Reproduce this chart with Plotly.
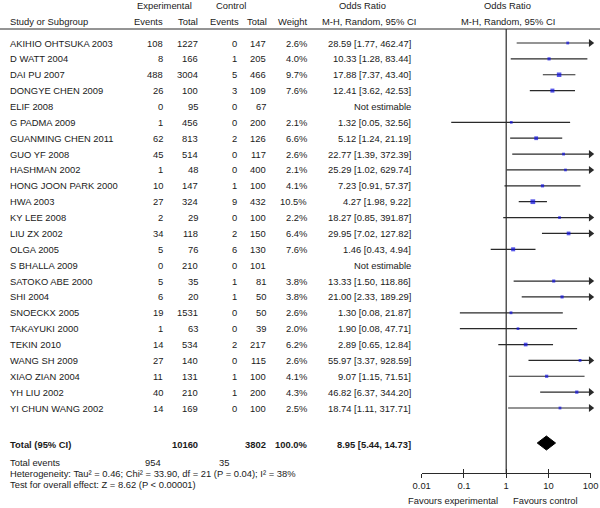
import math
import plotly.graph_objects as go

studies = ["AKIHIO OHTSUKA 2003", "D WATT 2004", "DAI PU 2007", "DONGYE CHEN 2009", "ELIF 2008",
           "G PADMA 2009", "GUANMING CHEN 2011", "GUO YF 2008", "HASHMAN 2002", "HONG JOON PARK 2000",
           "HWA 2003", "KY LEE 2008", "LIU ZX 2002", "OLGA 2005", "S BHALLA 2009", "SATOKO ABE 2000",
           "SHI 2004", "SNOECKX 2005", "TAKAYUKI 2000", "TEKIN 2010", "WANG SH 2009", "XIAO ZIAN 2004",
           "YH LIU 2002", "YI CHUN WANG 2002"]
exp_events = [108, 8, 488, 26, 0, 1, 62, 45, 1, 10, 27, 2, 34, 5, 0, 5, 6, 19, 1, 14, 27, 11, 40, 14]
exp_total = [1227, 166, 3004, 100, 95, 456, 813, 514, 48, 147, 324, 29, 118, 76, 210, 35, 20, 1531, 63, 534, 140, 131, 210, 169]
ctrl_events = [0, 1, 5, 3, 0, 0, 2, 0, 0, 1, 9, 0, 2, 6, 0, 1, 1, 0, 0, 2, 0, 1, 1, 0]
ctrl_total = [147, 205, 466, 109, 67, 200, 126, 117, 400, 100, 432, 100, 150, 130, 101, 81, 50, 50, 39, 217, 115, 100, 200, 100]
weights = [2.6, 4.0, 9.7, 7.6, None, 2.1, 6.6, 2.6, 2.1, 4.1, 10.5, 2.2, 6.4, 7.6, None, 3.8, 3.8, 2.6, 2.0, 6.2, 2.6, 4.1, 4.3, 2.5]
or_est = [28.59, 10.33, 17.88, 12.41, None, 1.32, 5.12, 22.77, 25.29, 7.23, 4.27, 18.27, 29.95, 1.46, None, 13.33, 21.00, 1.30, 1.90, 2.89, 55.97, 9.07, 46.82, 18.74]
ci_lo = [1.77, 1.28, 7.37, 3.62, None, 0.05, 1.24, 1.39, 1.02, 0.91, 1.98, 0.85, 7.02, 0.43, None, 1.50, 2.33, 0.08, 0.08, 0.65, 3.37, 1.15, 6.37, 1.11]
ci_hi = [462.47, 83.44, 43.40, 42.53, None, 32.56, 21.19, 372.39, 629.74, 57.37, 9.22, 391.87, 127.82, 4.94, None, 118.86, 189.29, 21.87, 47.71, 12.84, 928.59, 71.51, 344.20, 317.71]

total_exp = 10160
total_ctrl = 3802
total_weight = 100.0
total_or, total_lo, total_hi = 8.95, 5.44, 14.73
events_exp, events_ctrl = 954, 35
heterogeneity = "Heterogeneity: Tau² = 0.46; Chi² = 33.90, df = 21 (P = 0.04); I² = 38%"
overall = "Test for overall effect: Z = 8.62 (P < 0.00001)"
tick_vals = [0.01, 0.1, 1, 10, 100]
tick_text = ["0.01", "0.1", "1", "10", "100"]
axis_min, axis_max = 0.01, 100

W, H = 600, 508
ROW0, STEP = 43, 15.87
FONT = "Liberation Sans, Arial, sans-serif"
FS = 9.4
TXT = "#1a1a1a"
LINE = "#2a2a2a"


def px(x):
    return x / W


def py(y):
    return 1 - y / H


def row_of(ypix):
    return (ypix - ROW0) / STEP


fig = go.Figure()

# CI lines and arrows
for i, name in enumerate(studies):
    if or_est[i] is None:
        continue
    hi = min(ci_hi[i], axis_max)
    fig.add_trace(go.Scatter(x=[ci_lo[i], hi], y=[i, i], mode="lines", cliponaxis=False,
                             line=dict(color=LINE, width=1.2), hoverinfo="skip", showlegend=False))
    if ci_hi[i] > axis_max:
        fig.add_trace(go.Scatter(x=[axis_max], y=[i], mode="markers", cliponaxis=False,
                                 marker=dict(symbol="triangle-right", size=7, color=LINE,
                                             line=dict(width=0)),
                                 hoverinfo="skip", showlegend=False))

# point estimates
xs = [o for o in or_est if o is not None]
ys = [i for i, o in enumerate(or_est) if o is not None]
sz = [2.2 + 0.24 * w for w in weights if w is not None]
fig.add_trace(go.Scatter(x=xs, y=ys, mode="markers", cliponaxis=False,
                         marker=dict(symbol="square", size=sz, color="#1010e0", line=dict(width=0)),
                         hoverinfo="skip", showlegend=False))

# diamond
r_tot = row_of(443)
d = 7 / STEP
fig.add_trace(go.Scatter(x=[total_lo, total_or, total_hi, total_or, total_lo],
                         y=[r_tot, r_tot - d, r_tot, r_tot + d, r_tot],
                         mode="lines", fill="toself", fillcolor="black",
                         line=dict(color="black", width=1), hoverinfo="skip", showlegend=False))

# null line
fig.add_trace(go.Scatter(x=[1, 1], y=[row_of(29), row_of(473)], mode="lines",
                         line=dict(color=LINE, width=1.2), hoverinfo="skip", showlegend=False))

# invisible trace for the inner tick axis
fig.add_trace(go.Scatter(x=[1], y=[0], xaxis="x2", mode="markers",
                         marker=dict(opacity=0), hoverinfo="skip", showlegend=False))

ann = []


def txt(x, y, s, anchor="left", yref="paper"):
    ann.append(dict(x=x, y=y, xref="paper", yref=yref, text=s, showarrow=False,
                    xanchor=anchor, yanchor="middle", font=dict(family=FONT, size=FS, color=TXT)))


# headers
txt(px(164), py(6), "Experimental", "center")
txt(px(231), py(6), "Control", "center")
txt(px(362), py(6), "Odds Ratio", "center")
txt(px(507), py(6), "Odds Ratio", "center")
txt(px(8), py(21), "Study or Subgroup")
txt(px(165), py(21), "Events", "right")
txt(px(200), py(21), "Total", "right")
txt(px(241), py(21), "Events", "right")
txt(px(269), py(21), "Total", "right")
txt(px(309), py(21), "Weight", "right")
txt(px(369), py(21), "M-H, Random, 95% CI", "center")
txt(px(508), py(21), "M-H, Random, 95% CI", "center")

for i, name in enumerate(studies):
    txt(px(8), i, name, "left", "y")
    txt(px(165), i, str(exp_events[i]), "right", "y")
    txt(px(200), i, str(exp_total[i]), "right", "y")
    txt(px(239), i, str(ctrl_events[i]), "right", "y")
    txt(px(268), i, str(ctrl_total[i]), "right", "y")
    if or_est[i] is None:
        txt(px(413), i, "Not estimable", "right", "y")
    else:
        txt(px(309), i, f"{weights[i]:.1f}%", "right", "y")
        txt(px(413), i, f"{or_est[i]:.2f} [{ci_lo[i]:.2f}, {ci_hi[i]:.2f}]", "right", "y")

txt(px(8), py(444), "<b>Total (95% CI)</b>")
txt(px(200), py(444), f"<b>{total_exp}</b>", "right")
txt(px(268), py(444), f"<b>{total_ctrl}</b>", "right")
txt(px(309), py(444), f"<b>{total_weight:.1f}%</b>", "right")
txt(px(413), py(444), f"<b>{total_or:.2f} [{total_lo:.2f}, {total_hi:.2f}]</b>", "right")
txt(px(8), py(462), "Total events")
txt(px(163), py(462), str(events_exp), "right")
txt(px(231), py(462), str(events_ctrl), "right")
txt(px(8), py(473), heterogeneity)
txt(px(8), py(484), overall)
txt(px(500), py(500), "Favours experimental", "right")
txt(px(511), py(500), "Favours control", "left")

dom = [px(421.7), px(590.7)]
axpos = py(473)
fig.update_layout(
    width=W, height=H, margin=dict(l=0, r=0, t=0, b=0, autoexpand=False),
    paper_bgcolor="white", plot_bgcolor="white",
    annotations=ann, showlegend=False,
    shapes=[dict(type="line", xref="paper", yref="paper", x0=0, x1=1, y0=py(29), y1=py(29),
                 line=dict(color=LINE, width=1))],
    xaxis=dict(type="log", range=[math.log10(axis_min), math.log10(axis_max)], domain=dom,
               anchor="free", position=axpos, showline=True, linecolor=LINE, linewidth=1.2,
               ticks="outside", ticklen=4, tickwidth=1.2, tickcolor=LINE, automargin=False,
               tickvals=tick_vals, ticktext=tick_text, showgrid=False, zeroline=False,
               tickfont=dict(family=FONT, size=FS, color=TXT)),
    xaxis2=dict(type="log", range=[math.log10(axis_min), math.log10(axis_max)], domain=dom,
                anchor="free", position=axpos, overlaying="x", showline=False, automargin=False,
                ticks="inside", ticklen=4, tickwidth=1.2, tickcolor=LINE,
                tickvals=tick_vals, showticklabels=False, showgrid=False, zeroline=False),
    yaxis=dict(range=[row_of(H), row_of(0)], domain=[0, 1], visible=False, showgrid=False,
               zeroline=False, automargin=False),
)

fig.write_html("out.html", config={"displayModeBar": False},
               post_script="document.body.style.margin='0';document.body.style.padding='0';")
